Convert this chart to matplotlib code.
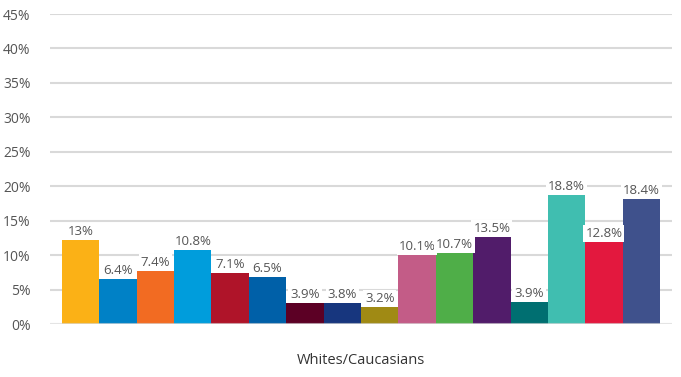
import matplotlib
matplotlib.use("Agg")
import matplotlib.pyplot as plt

# Valeurs (hauteur des barres) et étiquettes affichées
heights = [12.2, 6.5, 7.7, 10.7, 7.4, 6.8, 3.0, 3.0, 2.4, 10.0, 10.3, 12.6, 3.2, 18.7, 11.9, 18.1]
labels = ["13%", "6.4%", "7.4%", "10.8%", "7.1%", "6.5%", "3.9%", "3.8%", "3.2%",
          "10.1%", "10.7%", "13.5%", "3.9%", "18.8%", "12.8%", "18.4%"]
colors = ["#FBB116", "#0081C6", "#F26B22", "#009DDC", "#AF1429", "#0060A8", "#5C0025", "#17367E",
          "#A08A14", "#C35C87", "#4FAE48", "#511C6A", "#006F71", "#40BEB0", "#E3183E", "#3F518C"]
yticks = [0, 5, 10, 15, 20, 25, 30, 35, 40, 45]
group_label = "Whites/Caucasians"

plt.rcParams["font.family"] = ["Open Sans", "DejaVu Sans"]
TXT = "#555555"

fig = plt.figure(figsize=(6.81, 3.77), dpi=100)
ax = fig.add_axes([50 / 681, 53 / 377, 622 / 681, 310 / 377])

x = list(range(len(heights)))
ax.bar(x, heights, width=1.0, color=colors, zorder=2)
for xi, h, lab in zip(x, heights, labels):
    ax.text(xi, h + 0.35, lab, ha="center", va="bottom", fontsize=9.5, color=TXT, zorder=3,
            bbox=dict(boxstyle="square,pad=0.15", fc="white", ec="none"))

for t in yticks:
    ax.axhline(t, color="#d9d9d9", lw=1.5, zorder=1 if t else 4, alpha=1 if t else 0.7)

ax.set_xlim(-0.821, len(heights) - 1 + 0.821)
ax.set_ylim(0, 45)
ax.set_yticks(yticks)
ax.set_yticklabels([f"{t}%" for t in yticks], fontsize=10, color=TXT)
ax.tick_params(axis="y", length=0, pad=14)
ax.set_xticks([])
for s in ax.spines.values():
    s.set_visible(False)
ax.set_xlabel(group_label, fontsize=10.5, color="#333333", labelpad=21)

fig.savefig("out.png", dpi=100)
